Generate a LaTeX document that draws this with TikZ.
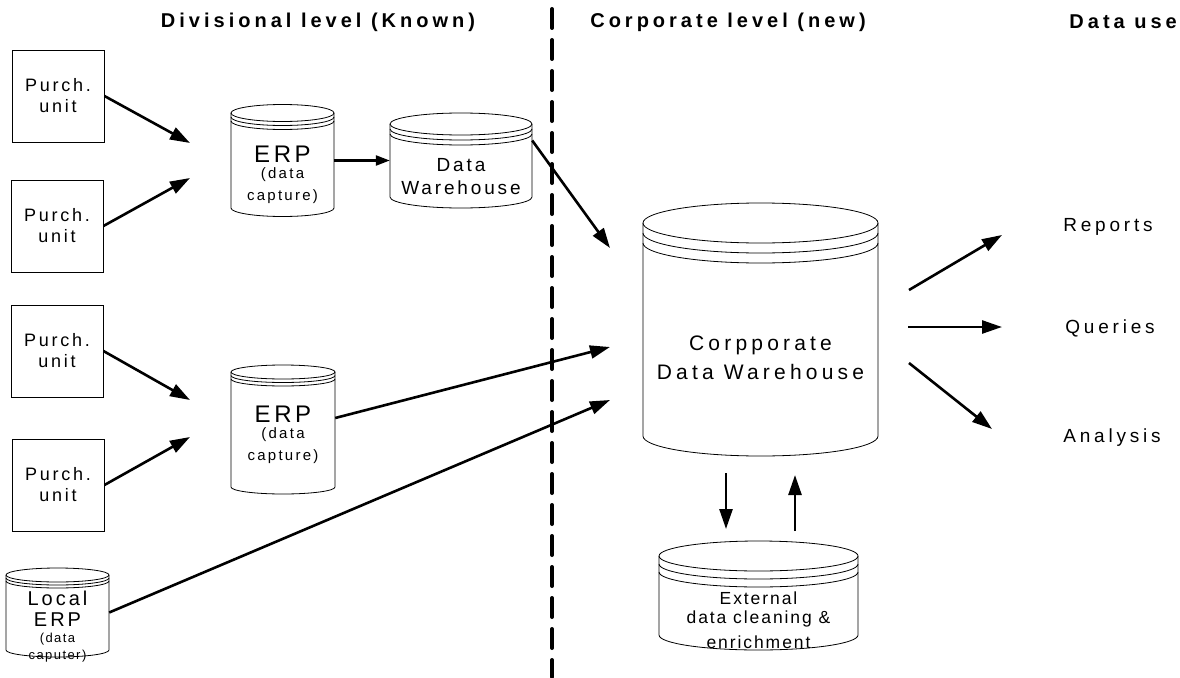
\documentclass[tikz,border=0pt]{standalone}
\usepackage{fontspec}
\setmainfont{Liberation Sans}
\newfontfamily\tfont[LetterSpace=20]{Liberation Sans}
\newfontfamily\lsa[LetterSpace=15]{Liberation Sans}
\newfontfamily\lsb[LetterSpace=20]{Liberation Sans}
\newfontfamily\lsc[LetterSpace=11]{Liberation Sans}
\usetikzlibrary{arrows.meta}
\newcommand\dbcyl[7]{%
  \pgfmathsetmacro\cx{(#1+#2)/2}%
  \pgfmathsetmacro\rx{(#2-#1)/2}%
  \draw[cylline] (\cx,-#3) ellipse[x radius=\rx, y radius=#5];
  \draw[cylline] (#1,{-#3-#6}) arc[start angle=180,end angle=360,x radius=\rx,y radius=#5];
  \draw[cylline] (#1,{-#3-2*#6}) arc[start angle=180,end angle=360,x radius=\rx,y radius=#5];
  \draw[cylline] (#1,-#3) -- (#1,-#4) arc[start angle=180,end angle=360,x radius=\rx,y radius=#5] -- (#2,-#3);
  \node[inner sep=0pt,minimum width={(#2-#1)*1pt},minimum height={(#4-#3)*1pt}] (#7) at (\cx,{-(#3+#4)/2}) {};
}
\begin{document}
\begin{tikzpicture}[x=1pt,y=1pt,
  box/.style={draw,line width=0.9pt,minimum width=92pt,minimum height=92pt,inner sep=0pt,align=center,font=\lsa\fontsize{18}{21}\selectfont},
  cylline/.style={line width=0.8pt},
  arr/.style={line width=2.6pt,-{Triangle[length=20pt,width=13pt]}},
  arrs/.style={line width=2.4pt,-{Triangle[length=14pt,width=10pt]}},
  ttl/.style={inner sep=0pt,font=\tfont\bfseries\fontsize{20}{22}\selectfont},
  big/.style={inner sep=0pt,font=\lsa\fontsize{24}{26}\selectfont},
  sml/.style={inner sep=0pt,font=\lsa\fontsize{15}{17}\selectfont},
  mid/.style={inner sep=0pt,font=\lsa\fontsize{19}{21}\selectfont},
  lcl/.style={inner sep=0pt,font=\lsa\fontsize{20}{22}\selectfont},
  tiny/.style={inner sep=0pt,font=\lsc\fontsize{13}{15}\selectfont},
  cdwt/.style={inner sep=0pt,font=\lsb\fontsize{21}{23}\selectfont},
  extt/.style={inner sep=0pt,font=\lsc\fontsize{17.5}{19}\selectfont},
  outt/.style={inner sep=0pt,font=\lsb\fontsize{19}{21}\selectfont},
  dashline/.style={line width=4pt,line cap=round,dash pattern=on 19pt off 12pt}
]
\useasboundingbox (0,0) rectangle (1180,-677);

% titles
\node[ttl] (t1) at (318,-22) {Divisional level (Known)};
\node[ttl] (t2) at (728,-22) {Corporate level (new)};
\node[ttl,anchor=east] (t3) at (1177,-22) {Data use};

% separator
\coordinate (dtop) at (552,-9);
\coordinate (dbot) at (552,-677);
\draw[dashline] (dtop) -- (dbot);

% purchasing units
\node[box] (pu1) at (58,-96) {Purch.\\unit};
\node[box] (pu2) at (57,-226) {Purch.\\unit};
\node[box] (pu3) at (57,-351) {Purch.\\unit};
\node[box] (pu4) at (58,-485) {Purch.\\unit};

% cylinders
\dbcyl{231}{334}{113}{208}{8.5}{4}{erp1}
\dbcyl{390}{532}{124}{197}{11}{5}{dw}
\dbcyl{643}{878}{223}{436}{20}{10}{cdw}
\dbcyl{659}{858}{556}{635}{15}{8}{ext}
\dbcyl{231}{335}{372}{487}{7}{3.5}{erp2}
\dbcyl{6}{109}{575}{650}{7}{3}{lerp}

% cylinder texts
\node[big] (e1a) at (282.5,-154) {ERP};
\node[sml] (e1b) at (282.5,-175) {(data};
\node[sml] (e1c) at (282.5,-197) {capture)};
\node[mid] (dwa) at (461,-165) {Data};
\node[mid] (dwb) at (461,-188) {Warehouse};
\node[cdwt] (ca) at (760.5,-345) {Corpporate};
\node[cdwt] (cb) at (760.5,-372) {Data Warehouse};
\node[extt] (xa) at (758.5,-598) {External};
\node[extt] (xb) at (758.5,-619) {data cleaning \&};
\node[extt] (xc) at (758.5,-642) {enrichment};
\node[big] (e2a) at (283,-414) {ERP};
\node[sml] (e2b) at (283,-435) {(data};
\node[sml] (e2c) at (283,-457) {capture)};
\node[lcl] (la) at (57.5,-598) {Local};
\node[lcl] (lb) at (57.5,-620) {ERP};
\node[tiny] (lc) at (57.5,-639) {(data};
\node[tiny] (ld) at (57.5,-656) {caputer)};

% data use
\node[outt] (rep) at (1108,-227) {Reports};
\node[outt] (que) at (1110,-328) {Queries};
\node[outt] (ana) at (1112,-438) {Analysis};

% arrow end points
\coordinate (a1) at (190,-143);
\coordinate (a2) at (190,-178);
\coordinate (a3) at (190,-400);
\coordinate (a4) at (190,-437);
\coordinate (c1) at (610,-248);
\coordinate (c2) at (610,-347);
\coordinate (c3) at (610,-400);
\coordinate (o1s) at (909,-290);
\coordinate (o1e) at (1002,-235);
\coordinate (o2s) at (908,-327);
\coordinate (o2e) at (1002,-327);
\coordinate (o3s) at (909,-363);
\coordinate (o3e) at (992,-429);
\coordinate (ds) at (726,-473);
\coordinate (de) at (726,-529);
\coordinate (us) at (795,-531);
\coordinate (ue) at (795,-475);

\draw[arr] (pu1.east) -- (a1);
\draw[arr] (pu2.east) -- (a2);
\draw[arr] (pu3.east) -- (a3);
\draw[arr] (pu4.east) -- (a4);
\draw[arrs] (erp1) -- (dw);
\draw[arr] ([yshift=20pt]dw.east) -- (c1);
\draw[arr] ([yshift=11.5pt]erp2.east) -- (c2);
\draw[arr] (lerp.east) -- (c3);
\draw[arr] (o1s) -- (o1e);
\draw[arr] (o2s) -- (o2e);
\draw[arr] (o3s) -- (o3e);
\draw[arr] (ds) -- (de);
\draw[arr] (us) -- (ue);
\end{tikzpicture}
\end{document}
